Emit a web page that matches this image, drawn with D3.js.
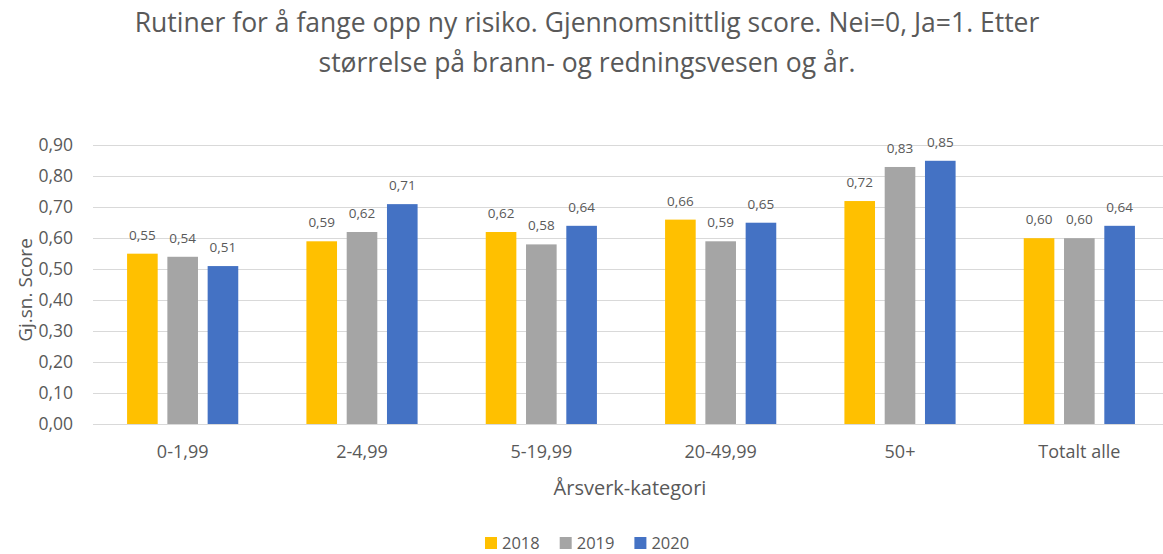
<!DOCTYPE html>
<html><head><meta charset="utf-8">
<script src="https://cdn.jsdelivr.net/npm/d3@7"></script>
<style>body{margin:0;background:#fff;} text{font-family:"Open Sans","Noto Sans",sans-serif;fill:#595959;}</style>
</head><body>
<svg id="c" width="1163" height="554"></svg>
<script>
const categories = ["0-1,99","2-4,99","5-19,99","20-49,99","50+","Totalt alle"];
const years = ["2018","2019","2020"];
const v2018 = [0.55,0.59,0.62,0.66,0.72,0.60];
const v2019 = [0.54,0.62,0.58,0.59,0.83,0.60];
const v2020 = [0.51,0.71,0.64,0.65,0.85,0.64];
const colors = ["#FFC000","#A5A5A5","#4472C4"];
const yTicks = [0,0.1,0.2,0.3,0.4,0.5,0.6,0.7,0.8,0.9];
const titleLines = ["Rutiner for å fange opp ny risiko. Gjennomsnittlig score. Nei=0, Ja=1. Etter","størrelse på brann- og redningsvesen og år."];

const series = [v2018,v2019,v2020];
const svg = d3.select("#c");
const fmt = v => d3.format(".2f")(v).replace(".",",");

const x0 = d3.scaleBand().domain(categories).range([93,1169]).paddingInner(0.38).paddingOuter(0.19);
const x1 = d3.scaleBand().domain(years).range([0,x0.bandwidth()]).paddingInner(0.24);
const y = d3.scaleLinear().domain([0,0.9]).range([424,145.3]);

// gridlines
svg.append("g").selectAll("line").data(yTicks).join("line")
  .attr("x1",93).attr("x2",1163).attr("y1",d=>Math.round(y(d))+0.5).attr("y2",d=>Math.round(y(d))+0.5)
  .attr("stroke","#D9D9D9").attr("stroke-width",1);

// y axis labels
const yAxis = d3.axisLeft(y).tickValues(yTicks).tickFormat(fmt).tickSize(0).tickPadding(0);
const yg = svg.append("g").attr("transform","translate(73,0)").call(yAxis);
yg.select(".domain").remove();
yg.selectAll("text").style("font-size","17.5px").attr("fill","#595959");

// x axis
const xAxis = d3.axisBottom(x0).tickSize(0).tickPadding(0);
const xg = svg.append("g").attr("transform","translate(0,424)").call(xAxis);
xg.select(".domain").remove();
xg.selectAll("text").style("font-size","18px").attr("fill","#595959").attr("dy",null).attr("y",34);

// bars
const groups = svg.append("g").selectAll("g").data(categories).join("g")
  .attr("transform",d=>`translate(${x0(d)},0)`);
groups.selectAll("rect").data((d,i)=>years.map((yr,j)=>({yr,j,v:series[j][i]}))).join("rect")
  .attr("x",d=>x1(d.yr)).attr("width",x1.bandwidth())
  .attr("y",d=>y(d.v)).attr("height",d=>y(0)-y(d.v)).attr("fill",d=>colors[d.j]);
groups.selectAll("text.lbl").data((d,i)=>years.map((yr,j)=>({yr,j,v:series[j][i]}))).join("text")
  .attr("class","lbl")
  .attr("x",d=>x1(d.yr)+x1.bandwidth()/2).attr("y",d=>y(d.v)-14)
  .attr("text-anchor","middle").style("font-size","13.5px").text(d=>fmt(d.v));

// axis line
svg.append("line").attr("x1",93).attr("x2",1163).attr("y1",424.5).attr("y2",424.5).attr("stroke","#D9D9D9");

// title
svg.append("g").selectAll("text").data(titleLines).join("text")
  .attr("x",587).attr("y",(d,i)=>32+i*40).attr("text-anchor","middle")
  .style("font-size","26.5px").text(d=>d);

// axis titles
svg.append("text").attr("transform","translate(32,290) rotate(-90)").attr("text-anchor","middle")
  .style("font-size","19px").text("Gj.sn. Score");
svg.append("text").attr("x",630).attr("y",495).attr("text-anchor","middle")
  .style("font-size","20px").text("Årsverk-kategori");

// legend
const leg = svg.append("g").selectAll("g").data(years).join("g")
  .attr("transform",(d,i)=>`translate(${485+i*74.7},537)`);
leg.append("rect").attr("width",12).attr("height",12).attr("fill",(d,i)=>colors[i]);
leg.append("text").attr("x",17).attr("y",12).style("font-size","16.5px").text(d=>d);
</script>
</body></html>
